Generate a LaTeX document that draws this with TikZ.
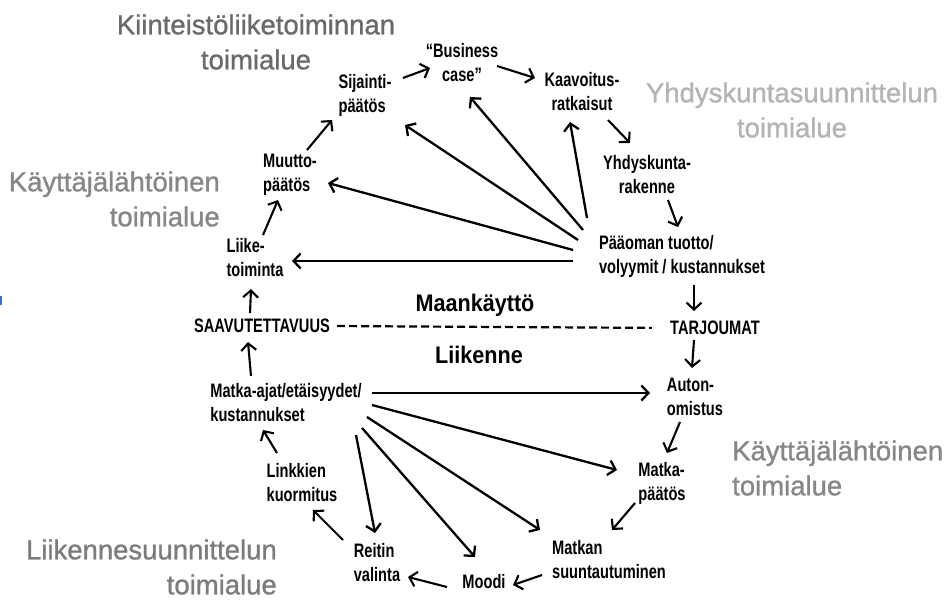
\documentclass[tikz,border=0pt]{standalone}
\usepackage{fontspec}
\setmainfont{Liberation Sans}
\newfontfamily\cond{Liberation Sans Bold}[FakeStretch=0.75]
\newfontfamily\condB{Liberation Sans Bold}[FakeStretch=0.9]
\newfontfamily\areafont{Liberation Sans}[FakeBold=1]
\usetikzlibrary{arrows.meta}
\definecolor{areaA}{HTML}{6A6A6A}
\definecolor{areaB}{HTML}{B4B4B4}
\definecolor{areaC}{HTML}{878787}
\definecolor{areaD}{HTML}{7C7C7C}
\definecolor{edgeblue}{HTML}{3A6FD0}
\begin{document}
\begin{tikzpicture}[x=1pt,y=-1pt,
  lbl/.style={font=\cond\fontsize{19.5}{24}\selectfont, inner sep=0pt, align=left},
  lblc/.style={lbl, align=center},
  big/.style={font=\condB\fontsize{24}{28}\selectfont, inner sep=0pt},
  area/.style={font=\areafont\fontsize{27.5}{35}\selectfont, inner sep=0pt},
  arr/.style={line width=2.1pt, -{Straight Barb[length=7pt,width=15pt]}},
  link/.style={line width=2.3pt, -{Straight Barb[length=7pt,width=15pt]}},
  sep/.style={line width=2.2pt, dash pattern=on 8pt off 4pt}]
\fill[white] (0,0) rectangle (945,601);
\useasboundingbox (0,0) rectangle (945,601);
\fill[edgeblue] (0,296) rectangle (2,305);

% domain captions
\node[area, text=areaA, align=center] (kiint) at (256,42) {Kiinteistöliiketoiminnan\\toimialue};
\node[area, text=areaB, align=center] (yhdys) at (792,110) {Yhdyskuntasuunnittelun\\toimialue};
\node[area, text=areaC, align=right, anchor=east] (kayttL) at (220,199) {Käyttäjälähtöinen\\toimialue};
\node[area, text=areaC, align=left, anchor=west] (kayttR) at (732,468) {Käyttäjälähtöinen\\toimialue};
\node[area, text=areaD, align=right, anchor=east] (liikS) at (277,567) {Liikennesuunnittelun\\toimialue};

% land use / transport split
\node[big] (maan) at (475,305) {Maankäyttö};
\node[big] (liik) at (479,355) {Liikenne};

% cycle nodes
\node[lbl]  (sij) at (365,95)  {Sijainti-\\päätös};
\node[lblc] (bus) at (462,63)  {“Business\\case”};
\node[lblc] (kaa) at (582,92)  {Kaavoitus-\\ratkaisut};
\node[lblc] (yhd) at (647,175) {Yhdyskunta-\\rakenne};
\node[lbl]  (paa) at (682,256) {Pääoman tuotto/\\volyymit / kustannukset};
\node[lbl]  (tar) at (715,328) {TARJOUMAT};
\node[lbl]  (aut) at (695,397) {Auton-\\omistus};
\node[lbl]  (mpa) at (662,483) {Matka-\\päätös};
\node[lbl]  (msu) at (609,560) {Matkan\\suuntautuminen};
\node[lbl]  (moo) at (484,582) {Moodi};
\node[lbl]  (rei) at (377,563) {Reitin\\valinta};
\node[lbl]  (lin) at (302,483) {Linkkien\\kuormitus};
\node[lbl]  (mat) at (286,403) {Matka-ajat/etäisyydet/\\kustannukset};
\node[lbl]  (saa) at (262,326) {SAAVUTETTAVUUS};
\node[lbl]  (lii) at (255,258) {Liike-\\toiminta};
\node[lbl]  (muu) at (290,175) {Muutto-\\päätös};

% dashed divider
\draw[sep, shorten <=7pt, shorten >=18pt] (saa.east) -- (tar.west);

% cycle arrows
\draw[arr] ([shift={(17,-25)}]muu.center) -- ([shift={(-33,25)}]sij.center);
\draw[arr] ([shift={(8,-23)}]lii.center) -- ([shift={(-12,25)}]muu.center);
\draw[arr] ([shift={(-12,-13)}]saa.center) -- ([shift={(-4,31)}]lii.center);
\draw[arr] ([shift={(-35,-27)}]mat.center) -- ([shift={(-14,16)}]saa.center);
\draw[arr] ([shift={(38,-17)}]sij.center) -- ([shift={(-32,5)}]bus.center);
\draw[arr] ([shift={(35,3)}]bus.center) -- ([shift={(-47,-14)}]kaa.center);
\draw[arr] ([shift={(26,28)}]kaa.center) -- ([shift={(-17,-32)}]yhd.center);
\draw[arr] ([shift={(21,25)}]yhd.center) -- ([shift={(-4,-29)}]paa.center);
\draw[arr] ([shift={(12,29)}]paa.center) -- ([shift={(-21,-17)}]tar.center);
\draw[arr] ([shift={(-21,12)}]tar.center) -- ([shift={(-3,-29)}]aut.center);
\draw[arr] ([shift={(-15,25)}]aut.center) -- ([shift={(5,-30)}]mpa.center);
\draw[arr] ([shift={(-27,20)}]mpa.center) -- ([shift={(3,-30)}]msu.center);
\draw[arr] ([shift={(-67,15)}]msu.center) -- ([shift={(29,3)}]moo.center);
\draw[arr] ([shift={(-37,5)}]moo.center) -- ([shift={(31,14)}]rei.center);
\draw[arr] ([shift={(-34,-23)}]rei.center) -- ([shift={(11,27)}]lin.center);
\draw[arr] ([shift={(-25,-30)}]lin.center) -- ([shift={(-23,27)}]mat.center);

% influences of returns / volumes / costs
\draw[link] ([shift={(-109,5)}]paa.center) -- ([shift={(37,3)}]lii.center);
\draw[link] ([shift={(-109,-6)}]paa.center) -- ([shift={(38,8)}]muu.center);
\draw[link] ([shift={(-104,-16)}]paa.center) -- ([shift={(40,30)}]sij.center);
\draw[link] ([shift={(-99,-26)}]paa.center) -- ([shift={(8,34)}]bus.center);
\draw[link] ([shift={(-95,-38)}]paa.center) -- ([shift={(-12,30)}]kaa.center);

% influences of travel times / distances / costs
\draw[link] ([shift={(86,-10)}]mat.center) -- ([shift={(-45,-4)}]aut.center);
\draw[link] ([shift={(86,2)}]mat.center) -- ([shift={(-45,-13)}]mpa.center);
\draw[link] ([shift={(81,14)}]mat.center) -- ([shift={(-69,-30)}]msu.center);
\draw[link] ([shift={(76,25)}]mat.center) -- ([shift={(-9,-25)}]moo.center);
\draw[link] ([shift={(70,32)}]mat.center) -- ([shift={(-2,-30)}]rei.center);
\end{tikzpicture}
\end{document}
